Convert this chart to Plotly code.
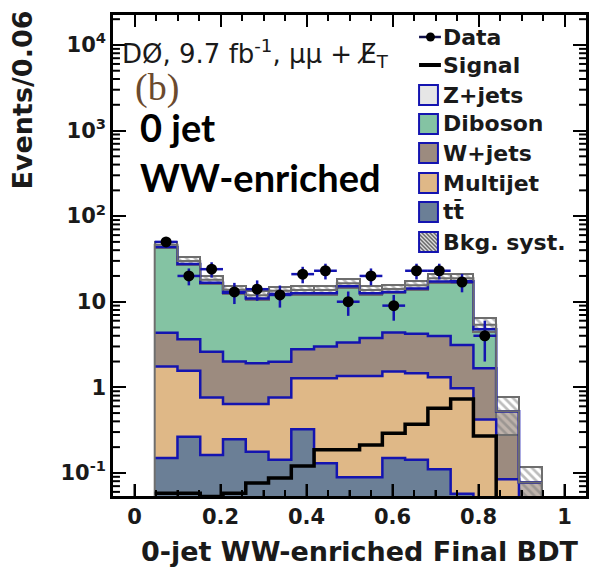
import numpy as np
import plotly.graph_objects as go

# ---- histogram binning (final BDT output) ----
bin_lo, bin_hi, n_bins = 0.047, 0.947, 17

# ---- per-bin yields (events per bin) ----
ttbar    = [0.149, 0.265, 0.162, 0.248, 0.177, 0.142, 0.324, 0.130, 0.089, 0.089, 0.149, 0.142, 0.110, 0.057, 0.0, 0.0, 0.0]
multijet = [1.60, 1.30, 0.60, 0.39, 0.46, 0.62, 0.95, 1.15, 1.27, 1.27, 1.38, 1.32, 1.20, 0.92, 0.42, 0.084, 0.0]
wjets    = [2.60, 2.08, 1.84, 1.36, 1.27, 1.23, 1.51, 1.71, 1.97, 2.42, 2.83, 2.75, 2.67, 2.15, 1.25, 0.44, 0.077]
diboson  = [39.2, 24.0, 14.0, 10.75, 9.0, 10.35, 9.8, 9.6, 11.8, 8.8, 8.65, 10.1, 13.3, 14.2, 3.1, 0.0, 0.0]
zjets    = [2.6, 2.3, 1.4, 1.05, 1.0, 1.05, 1.1, 1.1, 1.3, 1.1, 1.1, 1.3, 1.5, 1.5, 0.6, 0.0, 0.0]
bkg_syst = [3.7, 3.3, 2.0, 1.5, 1.4, 1.5, 1.6, 1.6, 1.8, 1.6, 1.6, 1.8, 2.2, 2.2, 1.0, 0.25, 0.04]
signal   = [0.058, 0.058, 0.053, 0.058, 0.076, 0.087, 0.12, 0.186, 0.186, 0.212, 0.29, 0.37, 0.57, 0.73, 0.27, 0.0, 0.0]
data     = [50, 20, 24, 13, 14, 12, 21, 23, 10, 20, 9, 23, 23, 17, 4, 0, 0]

x_tick_vals = [0, 0.2, 0.4, 0.6, 0.8, 1]
x_tick_text = ["0", "0.2", "0.4", "0.6", "0.8", "1"]
y_tick_vals = [0.1, 1, 10, 100, 1000, 10000]
y_tick_text = ["10<sup>-1</sup>", "1", "10", "10<sup>2</sup>", "10<sup>3</sup>", "10<sup>4</sup>"]

# ---- colours ----
C_TT, C_MJ, C_WJ, C_VV, C_ZJ = "#6b7f96", "#dfb887", "#9c8b7f", "#84c3a3", "#e6e6e6"
C_LINE = "#1414b0"
C_TXT = "#1a1a1a"
C_TICK = "black"
FLOOR = 1e-3

X_RANGE = [-0.05, 1.05]
Y_RANGE = [-1.27, 4.35]  # log10 units

edges = np.linspace(bin_lo, bin_hi, n_bins + 1)
centers = 0.5 * (edges[:-1] + edges[1:])
bw = edges[1] - edges[0]

stack = [("ttbar", ttbar, C_TT), ("Multijet", multijet, C_MJ), ("W+jets", wjets, C_WJ),
         ("Diboson", diboson, C_VV), ("Z+jets", zjets, C_ZJ)]

fig = go.Figure()

# stacked backgrounds: each component drawn from the running sum below it
cum = np.zeros(n_bins)
tops = []
for name, vals, col in stack:
    v = np.array(vals, dtype=float)
    base = np.where(cum > 0, cum, FLOOR)
    fig.add_trace(go.Bar(x=centers, y=(cum + v) - base, base=base, width=bw,
                         marker=dict(color=col, line=dict(width=0)),
                         name=name, showlegend=False, hoverinfo="skip"))
    cum = cum + v
    tops.append(cum.copy())
total = cum

def step_xy(vals):
    v = np.where(np.asarray(vals) > 0, vals, FLOOR)
    return list(edges), list(v) + [v[-1]]

# blue step outlines on top of each background component
for t in tops[:4]:
    sx, sy = step_xy(t)
    fig.add_trace(go.Scatter(x=sx, y=sy, mode="lines", line=dict(color=C_LINE, width=2.5, shape="hv"),
                             showlegend=False, hoverinfo="skip"))

# outer edge of the full background stack
sx, sy = step_xy(total)
fig.add_trace(go.Scatter(x=[edges[0]] + sx + [edges[-1]], y=[FLOOR] + sy + [FLOOR], mode="lines",
                         line=dict(color="#6e6e6e", width=2, shape="hv"), showlegend=False, hoverinfo="skip"))

# background systematic band
syst = np.array(bkg_syst)
fig.add_trace(go.Bar(x=centers, y=2 * syst, base=total - syst, width=bw,
                     marker=dict(color="rgba(255,255,255,0)", line=dict(color="#6e6e6e", width=2),
                                 pattern=dict(shape="\\", fgcolor="#7a7a7a", bgcolor="rgba(255,255,255,0.35)",
                                              size=6, solidity=0.45)),
                     showlegend=False, hoverinfo="skip"))

# signal
sx, sy = step_xy(signal)
fig.add_trace(go.Scatter(x=sx, y=sy, mode="lines", line=dict(color="black", width=3.5, shape="hv"),
                         showlegend=False, hoverinfo="skip"))

# data
d = np.array(data, dtype=float)
m = d > 0
fig.add_trace(go.Scatter(x=centers[m], y=d[m], mode="markers",
                         marker=dict(color="black", size=11),
                         error_y=dict(type="data", array=np.sqrt(d[m]), color=C_LINE, thickness=2.5, width=0),
                         error_x=dict(type="data", array=[bw / 2] * int(m.sum()), color=C_LINE, thickness=2.5, width=0),
                         showlegend=False))

# ---- layout ----
L, R, T, B = 113, 589, 15, 496
W, H = 597, 576
PW, PH = R - L, B - T

def px(xp):
    return (xp - L) / PW

def py(yp):
    return (B - yp) / PH

def xdata_paper(x):
    return (x - X_RANGE[0]) / (X_RANGE[1] - X_RANGE[0])

def ydata_paper(y):
    return (np.log10(y) - Y_RANGE[0]) / (Y_RANGE[1] - Y_RANGE[0])

fig.update_layout(
    width=W, height=H, margin=dict(l=L, r=W - R, t=T, b=H - B),
    paper_bgcolor="white", plot_bgcolor="white", barmode="overlay", bargap=0,
    showlegend=False,
    xaxis=dict(range=X_RANGE, tickvals=x_tick_vals, ticktext=x_tick_text,
               ticks="inside", ticklen=12, tickwidth=2, tickcolor=C_TICK,
               showline=True, linecolor="black", linewidth=2.5, mirror="allticks",
               showgrid=False, zeroline=False,
               tickfont=dict(family="DejaVu Sans", size=21, color=C_TXT, weight="bold"),
               minor=dict(dtick=0.05, ticks="inside", ticklen=6, tickwidth=2, tickcolor=C_TICK, showgrid=False)),
    yaxis=dict(type="log", range=Y_RANGE, tickvals=y_tick_vals, ticktext=y_tick_text,
               ticks="inside", ticklen=13, tickwidth=2, tickcolor=C_TICK,
               showline=True, linecolor="black", linewidth=2.5, mirror="allticks",
               showgrid=False, zeroline=False,
               tickfont=dict(family="DejaVu Sans", size=21, color=C_TXT, weight="bold")),
)

shapes = []

# minor ticks of the log axis, left and right frame
for e in range(-2, 5):
    for k in range(2, 10):
        yp = ydata_paper(k * 10.0 ** e)
        if 0 < yp < 1:
            for x0, x1 in ((0, 7 / PW), (1, 1 - 7 / PW)):
                shapes.append(dict(type="line", xref="paper", yref="paper", x0=x0, y0=yp, x1=x1, y1=yp,
                                   line=dict(color=C_TICK, width=2)))

# bottom-frame ticks drawn above the filled histogram
for i in range(21):
    xv = i * 0.05
    major = i % 4 == 0
    xp = xdata_paper(xv)
    shapes.append(dict(type="line", xref="paper", yref="paper", x0=xp, y0=0, x1=xp,
                       y1=(12 if major else 6) / PH, line=dict(color=C_TICK, width=2)))

ann = []
ann.append(dict(text="0-jet WW-enriched Final BDT", x=px(362), y=py(551), xref="paper", yref="paper",
                showarrow=False, font=dict(family="DejaVu Sans", size=27, color=C_TXT, weight="bold"),
                xanchor="center", yanchor="middle"))
ann.append(dict(text="Events/0.06", x=px(22), y=py(100), xref="paper", yref="paper", textangle=-90,
                showarrow=False, font=dict(family="DejaVu Sans", size=27, color=C_TXT, weight="bold"),
                xanchor="center", yanchor="middle"))
ann.append(dict(text="DØ, 9.7 fb<sup>-1</sup>, μμ + E\u0338<sub>T</sub>", x=px(120), y=py(54),
                xref="paper", yref="paper", showarrow=False,
                font=dict(family="DejaVu Sans", size=26, color=C_TXT), xanchor="left", yanchor="middle"))
ann.append(dict(text="(b)", x=px(133), y=py(88), xref="paper", yref="paper", showarrow=False,
                font=dict(family="Liberation Serif", size=38, color="#6b4a2e"), xanchor="left", yanchor="middle"))
ann.append(dict(text="0 jet", x=px(138), y=py(127), xref="paper", yref="paper", showarrow=False,
                font=dict(family="Lato", size=38, color="black", weight="bold"), xanchor="left", yanchor="middle"))
ann.append(dict(text="WW-enriched", x=px(138), y=py(177), xref="paper", yref="paper", showarrow=False,
                font=dict(family="Lato", size=38, color="black", weight="bold"), xanchor="left", yanchor="middle"))

# ---- legend (drawn by hand) ----
leg_x0, leg_x1, txt_x = 421, 440, 443
rows = [("Data", 37), ("Signal", 65), ("Z+jets", 95), ("Diboson", 124), ("W+jets", 153),
        ("Multijet", 183), ("tt\u0304", 212), ("Bkg. syst.", 242)]
box_fill = {"Z+jets": C_ZJ, "Diboson": C_VV, "W+jets": C_WJ, "Multijet": C_MJ, "tt\u0304": C_TT,
            "Bkg. syst.": "#dcdcdc"}
for label, yc in rows:
    ann.append(dict(text=label, x=px(txt_x), y=py(yc), xref="paper", yref="paper", showarrow=False,
                    font=dict(family="DejaVu Sans", size=22, color=C_TXT, weight="bold"),
                    xanchor="left", yanchor="middle"))
    if label == "Data":
        shapes.append(dict(type="line", xref="paper", yref="paper", x0=px(leg_x0), x1=px(txt_x),
                           y0=py(yc), y1=py(yc), line=dict(color="#10104a", width=2.5)))
        shapes.append(dict(type="circle", xref="paper", yref="paper", x0=px(428), x1=px(437),
                           y0=py(yc + 4.5), y1=py(yc - 4.5), fillcolor="black", line=dict(width=0)))
    elif label == "Signal":
        shapes.append(dict(type="line", xref="paper", yref="paper", x0=px(leg_x0), x1=px(txt_x),
                           y0=py(yc), y1=py(yc), line=dict(color="black", width=4)))
    else:
        y0, y1 = yc - 10, yc + 10
        shapes.append(dict(type="rect", xref="paper", yref="paper", x0=px(leg_x0), x1=px(leg_x1),
                           y0=py(y1), y1=py(y0), fillcolor=box_fill[label], line=dict(width=0)))
        if label == "Bkg. syst.":
            for c in range(-18, 20, 4):
                # hatch lines x - y = c inside the box (pixel frame, y downward)
                pts = []
                for xx in (leg_x0, leg_x1):
                    yy = xx - leg_x0 - c + y0
                    if y0 <= yy <= y1:
                        pts.append((xx, yy))
                for yy in (y0, y1):
                    xx = yy - y0 + c + leg_x0
                    if leg_x0 <= xx <= leg_x1:
                        pts.append((xx, yy))
                if len(pts) >= 2:
                    (ax, ay), (bx, by) = pts[0], pts[-1]
                    shapes.append(dict(type="line", xref="paper", yref="paper", x0=px(ax), y0=py(ay),
                                       x1=px(bx), y1=py(by), line=dict(color="#6a6a6a", width=1.5)))
        shapes.append(dict(type="rect", xref="paper", yref="paper", x0=px(leg_x0), x1=px(leg_x1),
                           y0=py(y1), y1=py(y0), fillcolor="rgba(0,0,0,0)", line=dict(color=C_LINE, width=2)))

fig.update_layout(annotations=ann, shapes=shapes)
fig.write_html("out.html")
